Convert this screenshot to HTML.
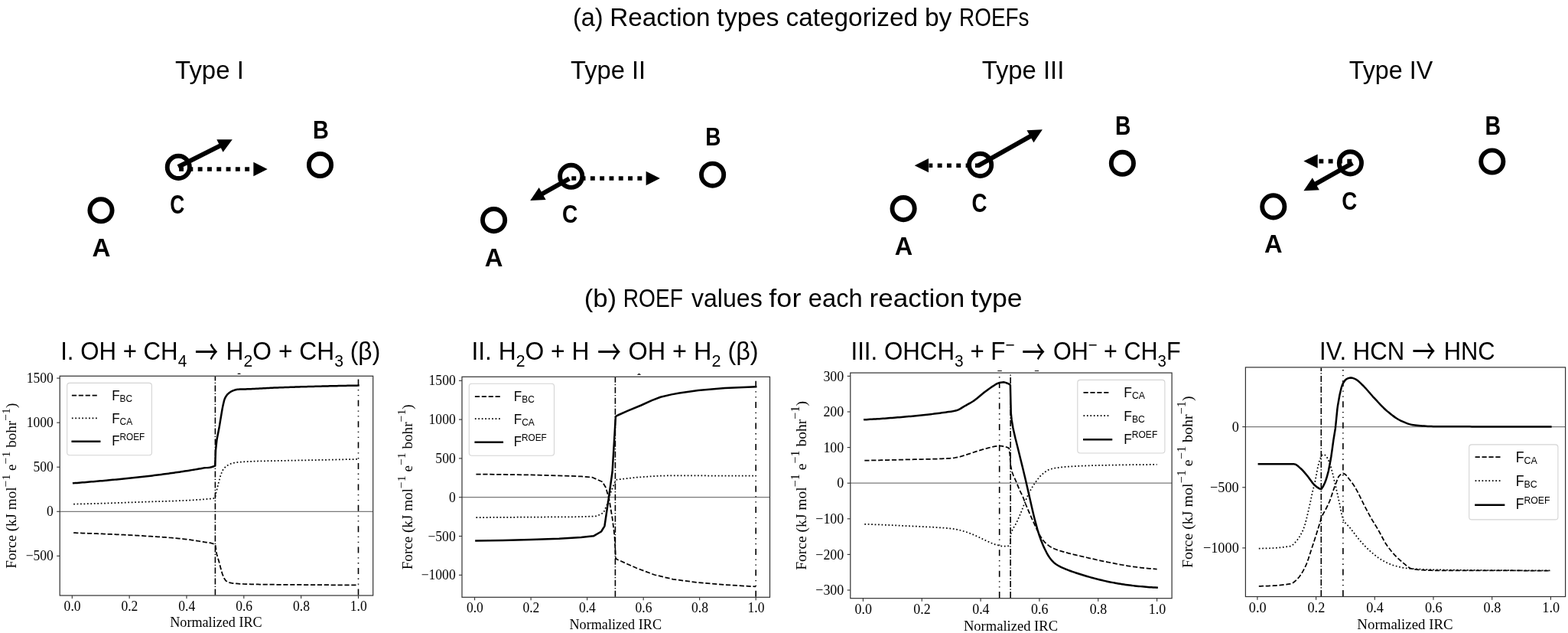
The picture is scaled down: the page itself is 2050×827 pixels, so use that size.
<!DOCTYPE html><html><head><meta charset="utf-8"><title>ROEF reaction types</title><style>html,body{margin:0;padding:0;background:#fff;overflow:hidden}svg{display:block}</style></head><body>
<svg width="2050" height="827" viewBox="0 0 2050 827">
<rect width="2050" height="827" fill="#fff"/>
<text x="229.13" y="102.8" font-size="32.4" font-family="'Liberation Sans', Arial, sans-serif" textLength="89.67" lengthAdjust="spacingAndGlyphs" >Type I</text>
<text x="746.01" y="102.7" font-size="32.4" font-family="'Liberation Sans', Arial, sans-serif" textLength="98.23" lengthAdjust="spacingAndGlyphs" >Type II</text>
<text x="1283.75" y="102.7" font-size="32.4" font-family="'Liberation Sans', Arial, sans-serif" textLength="107.54" lengthAdjust="spacingAndGlyphs" >Type III</text>
<text x="1763.81" y="102.7" font-size="32.4" font-family="'Liberation Sans', Arial, sans-serif" textLength="109.44" lengthAdjust="spacingAndGlyphs" >Type IV</text>
<text x="748.95" y="33.7" font-size="32.4" font-family="'Liberation Sans', Arial, sans-serif" textLength="39.75" lengthAdjust="spacingAndGlyphs" >(a)</text>
<text x="797.27" y="33.7" font-size="32.4" font-family="'Liberation Sans', Arial, sans-serif" textLength="131.36" lengthAdjust="spacingAndGlyphs" >Reaction</text>
<text x="937.38" y="33.7" font-size="32.4" font-family="'Liberation Sans', Arial, sans-serif" textLength="81.1" lengthAdjust="spacingAndGlyphs" >types</text>
<text x="1027.47" y="33.7" font-size="32.4" font-family="'Liberation Sans', Arial, sans-serif" textLength="172.54" lengthAdjust="spacingAndGlyphs" >categorized</text>
<text x="1208.91" y="33.7" font-size="32.4" font-family="'Liberation Sans', Arial, sans-serif" textLength="35.52" lengthAdjust="spacingAndGlyphs" >by</text>
<text x="1254.09" y="33.7" font-size="32.4" font-family="'Liberation Sans', Arial, sans-serif" textLength="91.36" lengthAdjust="spacingAndGlyphs" >ROEFs</text>
<text x="763.73" y="401.3" font-size="32.4" font-family="'Liberation Sans', Arial, sans-serif" textLength="42.48" lengthAdjust="spacingAndGlyphs" >(b)</text>
<text x="814.8" y="401.3" font-size="32.4" font-family="'Liberation Sans', Arial, sans-serif" textLength="78.08" lengthAdjust="spacingAndGlyphs" >ROEF</text>
<text x="903.94" y="401.3" font-size="32.4" font-family="'Liberation Sans', Arial, sans-serif" textLength="92.84" lengthAdjust="spacingAndGlyphs" >values</text>
<text x="1005.38" y="401.3" font-size="32.4" font-family="'Liberation Sans', Arial, sans-serif" textLength="42" lengthAdjust="spacingAndGlyphs" >for</text>
<text x="1056.79" y="401.3" font-size="32.4" font-family="'Liberation Sans', Arial, sans-serif" textLength="70.97" lengthAdjust="spacingAndGlyphs" >each</text>
<text x="1136.58" y="401.3" font-size="32.4" font-family="'Liberation Sans', Arial, sans-serif" textLength="124.65" lengthAdjust="spacingAndGlyphs" >reaction</text>
<text x="1269.39" y="401.3" font-size="32.4" font-family="'Liberation Sans', Arial, sans-serif" textLength="67.28" lengthAdjust="spacingAndGlyphs" >type</text>
<circle cx="132" cy="274.8" r="14.6" fill="none" stroke="#000" stroke-width="5.9"/>
<circle cx="418.5" cy="215.5" r="14.6" fill="none" stroke="#000" stroke-width="5.9"/>
<circle cx="233.3" cy="218.4" r="14.6" fill="none" stroke="#000" stroke-width="5.9"/>
<line x1="233" y1="218" x2="288.35" y2="190.09" stroke="#000" stroke-width="6"/>
<path d="M303.8 182.3L291.58 198.71L283.34 182.37Z" fill="#000"/>
<line x1="234.1" y1="221" x2="330.9" y2="221" stroke="#000" stroke-width="5.6" stroke-dasharray="5.9 6.4"/>
<path d="M349.7 221L331.4 230.15L331.4 211.85Z" fill="#000"/>
<circle cx="645.6" cy="287.6" r="14.6" fill="none" stroke="#000" stroke-width="5.9"/>
<circle cx="931.6" cy="228.2" r="14.6" fill="none" stroke="#000" stroke-width="5.9"/>
<circle cx="746.7" cy="230.3" r="14.6" fill="none" stroke="#000" stroke-width="5.9"/>
<line x1="744.3" y1="233.4" x2="708.3" y2="253.55" stroke="#000" stroke-width="6"/>
<path d="M693.2 262L704.7 245.08L713.64 261.05Z" fill="#000"/>
<line x1="747.3" y1="233" x2="844.1" y2="233" stroke="#000" stroke-width="5.6" stroke-dasharray="5.9 6.4"/>
<path d="M862.9 233L844.6 242.15L844.6 223.85Z" fill="#000"/>
<circle cx="1181.1" cy="272.6" r="14.6" fill="none" stroke="#000" stroke-width="5.9"/>
<circle cx="1467.4" cy="213.3" r="14.6" fill="none" stroke="#000" stroke-width="5.9"/>
<circle cx="1281.6" cy="215.4" r="14.6" fill="none" stroke="#000" stroke-width="5.9"/>
<line x1="1279.5" y1="216.2" x2="1347.83" y2="177.69" stroke="#000" stroke-width="6"/>
<path d="M1362.9 169.2L1351.45 186.16L1342.47 170.21Z" fill="#000"/>
<line x1="1280.8" y1="216.2" x2="1214.5" y2="216.2" stroke="#000" stroke-width="5.6" stroke-dasharray="5.9 6.4"/>
<path d="M1195.7 216.2L1214 207.05L1214 225.35Z" fill="#000"/>
<circle cx="1664.8" cy="269.9" r="14.6" fill="none" stroke="#000" stroke-width="5.9"/>
<circle cx="1950.8" cy="211" r="14.6" fill="none" stroke="#000" stroke-width="5.9"/>
<circle cx="1765.4" cy="212.9" r="14.6" fill="none" stroke="#000" stroke-width="5.9"/>
<line x1="1768.4" y1="213.2" x2="1719.48" y2="240.72" stroke="#000" stroke-width="6"/>
<path d="M1704.4 249.2L1715.86 232.25L1724.84 248.2Z" fill="#000"/>
<line x1="1767.2" y1="210.6" x2="1723.2" y2="210.6" stroke="#000" stroke-width="5.6" stroke-dasharray="5.9 6.4"/>
<path d="M1704.4 210.6L1722.7 201.45L1722.7 219.75Z" fill="#000"/>
<text transform="translate(132.55 335.2) scale(1 1)" font-family="'Liberation Sans', Arial, sans-serif" font-weight="bold" font-size="33.15" text-anchor="middle">A</text>
<text transform="translate(419.37 181.2) scale(0.87 1)" font-family="'Liberation Sans', Arial, sans-serif" font-weight="bold" font-size="33.19" text-anchor="middle">B</text>
<text transform="translate(231.73 278.94) scale(0.76 1)" font-family="'Liberation Sans', Arial, sans-serif" font-weight="bold" font-size="34.66" text-anchor="middle">C</text>
<text transform="translate(645.65 347.7) scale(0.98 1)" font-family="'Liberation Sans', Arial, sans-serif" font-weight="bold" font-size="33.47" text-anchor="middle">A</text>
<text transform="translate(932.47 190.3) scale(0.83 1)" font-family="'Liberation Sans', Arial, sans-serif" font-weight="bold" font-size="33.77" text-anchor="middle">B</text>
<text transform="translate(745.14 291.35) scale(0.84 1)" font-family="'Liberation Sans', Arial, sans-serif" font-weight="bold" font-size="33.49" text-anchor="middle">C</text>
<text transform="translate(1181.36 332.5) scale(0.97 1)" font-family="'Liberation Sans', Arial, sans-serif" font-weight="bold" font-size="33.47" text-anchor="middle">A</text>
<text transform="translate(1468.29 176.1) scale(0.82 1)" font-family="'Liberation Sans', Arial, sans-serif" font-weight="bold" font-size="34.35" text-anchor="middle">B</text>
<text transform="translate(1280.57 277.14) scale(0.78 1)" font-family="'Liberation Sans', Arial, sans-serif" font-weight="bold" font-size="35.45" text-anchor="middle">C</text>
<text transform="translate(1664.74 329.8) scale(0.96 1)" font-family="'Liberation Sans', Arial, sans-serif" font-weight="bold" font-size="34" text-anchor="middle">A</text>
<text transform="translate(1951.68 176.1) scale(0.83 1)" font-family="'Liberation Sans', Arial, sans-serif" font-weight="bold" font-size="34.35" text-anchor="middle">B</text>
<text transform="translate(1764.26 273.89) scale(0.82 1)" font-family="'Liberation Sans', Arial, sans-serif" font-weight="bold" font-size="33.82" text-anchor="middle">C</text>
<text x="79.16" y="470.1" font-family="'Liberation Sans', Arial, sans-serif" font-size="32.4" textLength="165.08" lengthAdjust="spacingAndGlyphs"><tspan y="470.1">I. OH + CH</tspan><tspan y="479" font-size="21.6">4</tspan></text>
<text x="295.6" y="470.1" font-family="'Liberation Sans', Arial, sans-serif" font-size="32.4" textLength="201.62" lengthAdjust="spacingAndGlyphs"><tspan y="470.1">H</tspan><tspan y="479" font-size="21.6">2</tspan><tspan y="470.1">O + CH</tspan><tspan y="479" font-size="21.6">3</tspan><tspan y="470.1"> (β)</tspan></text>
<text transform="translate(254.71 476.8) scale(0.85 1.25)" font-family="'Noto Sans CJK JP', 'Noto Sans CJK SC', sans-serif" font-size="36">→</text>
<line x1="78.2" y1="668.3" x2="487.7" y2="668.3" stroke="#7a7a7a" stroke-width="1.25"/>
<path d="M96.17 658.60 L98.51 658.55 L100.85 658.50 L103.20 658.45 L105.54 658.39 L107.88 658.34 L110.22 658.28 L112.56 658.22 L114.90 658.16 L117.25 658.10 L119.59 658.04 L121.93 657.98 L124.27 657.92 L126.61 657.85 L128.95 657.79 L131.30 657.72 L133.64 657.65 L135.98 657.58 L138.32 657.52 L138.83 657.50 L140.66 657.44 L143.00 657.37 L145.35 657.29 L147.69 657.22 L150.03 657.14 L152.37 657.05 L154.71 656.97 L157.05 656.88 L159.40 656.80 L161.74 656.71 L164.08 656.62 L166.42 656.53 L168.76 656.45 L171.11 656.36 L173.45 656.27 L175.79 656.18 L178.13 656.09 L180.47 656.01 L182.81 655.92 L185.16 655.84 L187.48 655.76 L187.50 655.76 L189.84 655.68 L192.18 655.60 L194.52 655.53 L196.86 655.45 L199.21 655.38 L201.55 655.31 L203.89 655.24 L206.23 655.17 L208.57 655.10 L210.91 655.03 L213.26 654.96 L215.60 654.89 L217.94 654.82 L220.28 654.74 L222.62 654.66 L224.96 654.58 L227.31 654.49 L229.65 654.40 L231.99 654.31 L234.33 654.21 L236.12 654.13 L236.67 654.11 L239.01 654.00 L241.36 653.89 L243.70 653.78 L246.04 653.66 L248.38 653.53 L250.72 653.40 L253.06 653.27 L255.41 653.12 L257.75 652.97 L260.09 652.81 L262.43 652.65 L264.77 652.47 L267.11 652.28 L269.46 652.09 L271.80 651.88 L274.14 651.66 L275.04 651.58 L276.48 651.46 L278.82 651.24 L280.91 650.76 L281.16 650.36 L282.52 643.56 L283.51 639.73 L285.85 630.50 L288.19 622.04 L290.53 615.43 L292.63 611.98 L292.87 611.74 L295.21 609.70 L297.56 608.00 L299.90 606.65 L302.24 605.63 L304.58 604.93 L305.95 604.66 L306.92 604.51 L309.26 604.19 L311.61 603.91 L313.95 603.67 L316.29 603.46 L318.63 603.29 L320.97 603.14 L323.32 603.01 L325.66 602.89 L327.80 602.80 L328.00 602.79 L330.34 602.71 L332.68 602.63 L335.02 602.56 L337.37 602.49 L339.71 602.44 L342.05 602.38 L344.39 602.33 L346.73 602.28 L349.07 602.23 L349.50 602.22 L351.42 602.18 L353.76 602.13 L356.10 602.09 L358.44 602.05 L360.78 602.01 L363.12 601.97 L365.47 601.93 L367.81 601.89 L370.15 601.84 L372.49 601.80 L374.83 601.76 L374.95 601.76 L377.17 601.72 L379.52 601.67 L381.86 601.63 L384.20 601.58 L386.54 601.54 L388.88 601.49 L391.22 601.45 L393.57 601.40 L395.91 601.36 L398.25 601.31 L400.59 601.27 L402.93 601.22 L405.27 601.18 L407.62 601.13 L409.96 601.09 L412.30 601.04 L414.64 600.99 L416.98 600.95 L419.32 600.90 L421.67 600.86 L424.01 600.81 L426.35 600.76 L428.69 600.72 L431.03 600.67 L433.37 600.62 L435.72 600.58 L438.06 600.53 L440.40 600.48 L442.74 600.43 L445.08 600.39 L447.42 600.34 L449.77 600.29 L452.11 600.24 L454.45 600.19 L456.79 600.14 L459.13 600.10 L461.47 600.05 L463.82 600.00 L466.16 599.95 L468.50 599.90" fill="none" stroke="#000" stroke-linejoin="round" stroke-width="1.75" stroke-dasharray="1.7 2.75"/>
<path d="M96.17 696.17 L98.51 696.24 L100.85 696.31 L103.20 696.38 L105.54 696.45 L107.88 696.53 L110.22 696.61 L112.56 696.69 L114.90 696.77 L117.25 696.85 L119.59 696.93 L121.93 697.02 L124.27 697.11 L126.61 697.19 L128.95 697.28 L131.30 697.38 L133.64 697.47 L135.98 697.56 L138.32 697.66 L138.83 697.68 L140.66 697.76 L143.00 697.86 L145.35 697.96 L147.69 698.06 L150.03 698.16 L152.37 698.27 L154.71 698.38 L157.05 698.49 L159.40 698.60 L161.74 698.72 L164.08 698.83 L166.42 698.95 L168.76 699.07 L171.11 699.20 L173.45 699.32 L175.79 699.45 L178.13 699.58 L180.47 699.71 L182.81 699.85 L185.16 699.98 L187.48 700.12 L187.50 700.12 L189.84 700.26 L192.18 700.40 L194.52 700.54 L196.86 700.69 L199.21 700.84 L201.55 700.98 L203.89 701.14 L206.23 701.29 L208.57 701.45 L210.91 701.61 L213.26 701.78 L215.60 701.95 L217.94 702.13 L220.28 702.31 L222.62 702.50 L224.96 702.69 L227.31 702.89 L229.65 703.10 L231.99 703.32 L234.33 703.54 L236.12 703.72 L236.67 703.78 L239.01 704.02 L241.36 704.29 L243.70 704.58 L246.04 704.88 L248.38 705.20 L250.72 705.54 L253.06 705.88 L255.41 706.25 L257.75 706.62 L260.09 707.01 L262.43 707.40 L264.77 707.81 L265.31 707.90 L267.11 708.19 L269.46 708.51 L271.80 708.82 L274.14 709.21 L276.48 709.72 L278.82 710.42 L280.91 711.27 L281.16 711.46 L281.51 711.96 L283.20 723.00 L283.51 724.39 L285.85 732.35 L286.60 734.84 L288.19 740.96 L290.53 749.34 L290.75 749.94 L292.87 755.17 L295.06 758.53 L295.21 758.64 L297.56 760.07 L299.90 761.07 L302.24 761.70 L303.48 761.90 L304.58 762.04 L306.92 762.29 L309.26 762.49 L311.61 762.66 L313.95 762.80 L316.29 762.91 L318.63 763.00 L320.32 763.06 L320.97 763.08 L323.32 763.15 L325.66 763.22 L328.00 763.28 L330.34 763.33 L332.68 763.38 L335.02 763.43 L337.37 763.47 L339.71 763.51 L342.05 763.55 L344.39 763.58 L346.73 763.61 L349.07 763.64 L349.50 763.64 L351.42 763.66 L353.76 763.69 L356.10 763.71 L358.44 763.74 L360.78 763.76 L363.12 763.78 L365.47 763.80 L367.81 763.81 L370.15 763.83 L372.49 763.85 L374.83 763.87 L377.17 763.88 L379.52 763.90 L381.86 763.91 L384.20 763.93 L386.54 763.94 L388.88 763.96 L391.22 763.97 L393.57 763.99 L393.66 763.99 L395.91 764.01 L398.25 764.02 L400.59 764.04 L402.93 764.06 L405.27 764.07 L407.62 764.09 L409.96 764.10 L412.30 764.12 L414.64 764.13 L416.98 764.15 L419.32 764.17 L421.67 764.18 L424.01 764.20 L426.35 764.21 L428.69 764.23 L431.03 764.24 L433.37 764.26 L435.72 764.27 L438.06 764.28 L440.40 764.30 L442.74 764.31 L445.08 764.33 L447.42 764.34 L449.77 764.35 L452.11 764.37 L454.45 764.38 L456.79 764.39 L459.13 764.41 L461.47 764.42 L463.82 764.43 L466.16 764.44 L468.50 764.46" fill="none" stroke="#000" stroke-linejoin="round" stroke-width="1.75" stroke-dasharray="6.2 2.7"/>
<path d="M96.17 631.25 L98.51 631.07 L100.85 630.89 L103.20 630.70 L105.54 630.52 L107.88 630.33 L110.22 630.14 L112.56 629.94 L114.90 629.75 L117.25 629.55 L119.59 629.35 L121.93 629.15 L124.27 628.95 L126.61 628.75 L128.95 628.54 L131.30 628.33 L133.64 628.13 L135.98 627.91 L138.32 627.70 L138.83 627.65 L140.66 627.49 L143.00 627.27 L145.35 627.05 L147.69 626.84 L150.03 626.62 L152.37 626.40 L154.71 626.17 L157.05 625.95 L159.40 625.72 L161.74 625.49 L164.08 625.26 L166.42 625.02 L168.76 624.79 L171.11 624.55 L173.45 624.30 L175.79 624.06 L178.13 623.81 L180.47 623.56 L182.81 623.30 L185.16 623.04 L187.48 622.78 L187.50 622.77 L189.84 622.51 L192.18 622.23 L194.52 621.96 L196.86 621.67 L199.21 621.39 L201.55 621.10 L203.89 620.81 L206.23 620.51 L208.57 620.21 L210.91 619.90 L213.26 619.59 L215.60 619.28 L217.94 618.96 L220.28 618.64 L222.62 618.32 L224.96 617.99 L227.31 617.66 L229.65 617.33 L231.99 616.99 L234.33 616.65 L236.12 616.39 L236.67 616.31 L239.01 615.96 L241.36 615.61 L243.70 615.25 L246.04 614.89 L248.38 614.52 L250.72 614.14 L253.06 613.76 L255.41 613.37 L257.75 612.97 L260.09 612.56 L262.43 612.15 L264.77 611.73 L265.31 611.63 L267.11 611.36 L269.46 611.13 L271.80 610.93 L274.14 610.67 L276.48 610.24 L278.82 609.52 L281.16 608.40 L281.21 608.38 L282.00 588.05 L283.51 574.23 L285.85 562.18 L287.01 556.12 L288.19 548.79 L290.53 534.75 L291.50 529.87 L292.87 523.93 L293.75 521.16 L295.21 518.16 L297.27 515.36 L297.56 515.06 L299.90 512.97 L302.24 511.47 L303.10 511.06 L304.58 510.43 L306.92 509.57 L309.26 508.99 L310.33 508.85 L311.61 508.76 L313.95 508.62 L316.29 508.52 L318.63 508.44 L320.97 508.38 L323.32 508.31 L325.66 508.24 L327.69 508.16 L328.00 508.14 L330.34 508.03 L332.68 507.91 L335.02 507.78 L337.37 507.64 L339.71 507.51 L342.05 507.38 L344.39 507.25 L346.73 507.13 L349.07 507.01 L349.50 507.00 L351.42 506.91 L353.76 506.81 L356.10 506.71 L358.44 506.61 L360.78 506.52 L363.12 506.42 L365.47 506.33 L367.81 506.24 L370.15 506.15 L372.49 506.06 L374.83 505.98 L377.17 505.90 L379.52 505.82 L381.86 505.74 L384.20 505.66 L386.54 505.59 L388.88 505.51 L391.22 505.44 L393.57 505.37 L393.66 505.37 L395.91 505.30 L398.25 505.24 L400.59 505.17 L402.93 505.10 L405.27 505.04 L407.62 504.97 L409.96 504.91 L412.30 504.85 L414.64 504.78 L416.98 504.72 L419.32 504.66 L421.67 504.60 L424.01 504.54 L426.35 504.48 L428.69 504.42 L431.03 504.37 L433.37 504.31 L435.72 504.26 L438.06 504.20 L440.40 504.15 L442.74 504.10 L445.08 504.05 L447.42 504.00 L449.77 503.95 L452.11 503.91 L454.45 503.86 L456.79 503.82 L459.13 503.78 L461.47 503.74 L463.82 503.70 L466.16 503.66 L468.50 503.63" fill="none" stroke="#000" stroke-linejoin="round" stroke-width="2.5" stroke-linecap="square"/>
<line x1="281.4" y1="777.4" x2="281.4" y2="491.9" stroke="#000" stroke-width="1.6" stroke-dasharray="8 2.4 1.2 2.4"/>
<line x1="468.5" y1="777.4" x2="468.5" y2="491.9" stroke="#000" stroke-width="1.6" stroke-dasharray="8 5.6 1.3 5.6 1.3 5.6"/>
<rect x="87.7" y="500.4" width="110.7" height="94.3" rx="3.5" ry="3.5" fill="#fff" fill-opacity="0.8" stroke="#d4d4d4" stroke-width="1.1"/>
<line x1="93.9" y1="516.7" x2="127.6" y2="516.7" stroke="#000" stroke-width="1.75" stroke-dasharray="6.2 2.7"/>
<text x="146.2" y="523" font-family="'Liberation Sans', Arial, sans-serif" font-size="18.6" textLength="27" lengthAdjust="spacingAndGlyphs">F<tspan font-size="13" y="525.1">BC</tspan></text>
<line x1="93.9" y1="546.4" x2="127.6" y2="546.4" stroke="#000" stroke-width="1.75" stroke-dasharray="1.7 2.75"/>
<text x="146.2" y="552.7" font-family="'Liberation Sans', Arial, sans-serif" font-size="18.6" textLength="27" lengthAdjust="spacingAndGlyphs">F<tspan font-size="13" y="554.8">CA</tspan></text>
<line x1="94.7" y1="576.8" x2="130.2" y2="576.8" stroke="#000" stroke-width="2.5" stroke-linecap="square"/>
<text x="146.2" y="582.2" font-family="'Liberation Sans', Arial, sans-serif" font-size="18.6" textLength="43" lengthAdjust="spacingAndGlyphs">F<tspan font-size="13" y="574.8">ROEF</tspan></text>
<rect x="78.2" y="491.3" width="409.5" height="286.7" fill="none" stroke="#303030" stroke-width="1.2"/>
<line x1="74.2" y1="494.1" x2="78.2" y2="494.1" stroke="#303030" stroke-width="1.1"/>
<text x="34.77" y="500.1" font-family="'Liberation Serif', 'Times New Roman', serif" font-size="18.2" textLength="35.13" lengthAdjust="spacingAndGlyphs">1500</text>
<line x1="74.2" y1="552.17" x2="78.2" y2="552.17" stroke="#303030" stroke-width="1.1"/>
<text x="34.77" y="558.17" font-family="'Liberation Serif', 'Times New Roman', serif" font-size="18.2" textLength="35.13" lengthAdjust="spacingAndGlyphs">1000</text>
<line x1="74.2" y1="610.23" x2="78.2" y2="610.23" stroke="#303030" stroke-width="1.1"/>
<text x="43.56" y="616.23" font-family="'Liberation Serif', 'Times New Roman', serif" font-size="18.2" textLength="26.34" lengthAdjust="spacingAndGlyphs">500</text>
<line x1="74.2" y1="668.3" x2="78.2" y2="668.3" stroke="#303030" stroke-width="1.1"/>
<text x="61.12" y="674.3" font-family="'Liberation Serif', 'Times New Roman', serif" font-size="18.2" textLength="8.78" lengthAdjust="spacingAndGlyphs">0</text>
<line x1="74.2" y1="726.37" x2="78.2" y2="726.37" stroke="#303030" stroke-width="1.1"/>
<text x="33.65" y="732.37" font-family="'Liberation Serif', 'Times New Roman', serif" font-size="18.2" textLength="36.25" lengthAdjust="spacingAndGlyphs">−500</text>
<line x1="94.3" y1="778" x2="94.3" y2="782" stroke="#303030" stroke-width="1.1"/>
<text x="83.62" y="797.7" font-family="'Liberation Serif', 'Times New Roman', serif" font-size="18.2" textLength="21.95" lengthAdjust="spacingAndGlyphs">0.0</text>
<line x1="169.14" y1="778" x2="169.14" y2="782" stroke="#303030" stroke-width="1.1"/>
<text x="158.46" y="797.7" font-family="'Liberation Serif', 'Times New Roman', serif" font-size="18.2" textLength="21.95" lengthAdjust="spacingAndGlyphs">0.2</text>
<line x1="243.98" y1="778" x2="243.98" y2="782" stroke="#303030" stroke-width="1.1"/>
<text x="233.3" y="797.7" font-family="'Liberation Serif', 'Times New Roman', serif" font-size="18.2" textLength="21.95" lengthAdjust="spacingAndGlyphs">0.4</text>
<line x1="318.82" y1="778" x2="318.82" y2="782" stroke="#303030" stroke-width="1.1"/>
<text x="308.14" y="797.7" font-family="'Liberation Serif', 'Times New Roman', serif" font-size="18.2" textLength="21.95" lengthAdjust="spacingAndGlyphs">0.6</text>
<line x1="393.66" y1="778" x2="393.66" y2="782" stroke="#303030" stroke-width="1.1"/>
<text x="382.98" y="797.7" font-family="'Liberation Serif', 'Times New Roman', serif" font-size="18.2" textLength="21.95" lengthAdjust="spacingAndGlyphs">0.8</text>
<line x1="468.5" y1="778" x2="468.5" y2="782" stroke="#303030" stroke-width="1.1"/>
<text x="457.82" y="797.7" font-family="'Liberation Serif', 'Times New Roman', serif" font-size="18.2" textLength="21.95" lengthAdjust="spacingAndGlyphs">1.0</text>
<text x="282.45" y="818.8" font-family="'Liberation Serif', 'Times New Roman', serif" font-size="18.8" text-anchor="middle" textLength="120.5" lengthAdjust="spacingAndGlyphs">Normalized IRC</text>
<text transform="translate(21.2 634.65) rotate(-90)" font-family="'Liberation Serif', 'Times New Roman', serif" font-size="18.8" text-anchor="middle" textLength="216" lengthAdjust="spacingAndGlyphs">Force (kJ mol<tspan font-size="15.5" dy="-8.3">−1</tspan><tspan dy="8.3"> e</tspan><tspan font-size="15.5" dy="-8.3">−1</tspan><tspan dy="8.3"> bohr</tspan><tspan font-size="15.5" dy="-8.3">−1</tspan><tspan dy="8.3">)</tspan></text>
<text x="616.39" y="470.1" font-family="'Liberation Sans', Arial, sans-serif" font-size="32.4" textLength="154.14" lengthAdjust="spacingAndGlyphs"><tspan y="470.1">II. H</tspan><tspan y="479" font-size="21.6">2</tspan><tspan y="470.1">O + H</tspan></text>
<text x="821.44" y="470.1" font-family="'Liberation Sans', Arial, sans-serif" font-size="32.4" textLength="170.22" lengthAdjust="spacingAndGlyphs"><tspan y="470.1">OH + H</tspan><tspan y="479" font-size="21.6">2</tspan><tspan y="470.1"> (β)</tspan></text>
<text transform="translate(780.99 476.7) scale(0.86 1.25)" font-family="'Noto Sans CJK JP', 'Noto Sans CJK SC', sans-serif" font-size="36">→</text>
<line x1="604" y1="649.7" x2="1006.5" y2="649.7" stroke="#7a7a7a" stroke-width="1.25"/>
<path d="M622.44 676.12 L694.12 675.61 L759.92 675.20 L780.36 674.29 L788.96 670.02 L793.45 659.86 L797.78 645.33 L803.48 630.90 L806.39 626.64 L832.34 623.69 L860.28 621.76 L880.02 621.25 L914.68 621.46 L988.20 621.76" fill="none" stroke="#000" stroke-linejoin="round" stroke-width="1.75" stroke-dasharray="1.7 2.75"/>
<path d="M622.44 619.52 L694.12 620.44 L759.92 622.37 L774.51 623.69 L787.49 629.48 L791.90 636.70 L796.20 651.12 L800.58 677.13 L803.48 700.30 L804.91 729.25 L806.39 730.68 L832.34 742.26 L855.72 751.00 L880.02 756.79 L912.84 761.16 L947.76 764.00 L988.20 766.44" fill="none" stroke="#000" stroke-linejoin="round" stroke-width="1.75" stroke-dasharray="6.2 2.7"/>
<path d="M622.44 706.49 L657.36 705.88 L694.12 705.07 L730.88 703.75 L759.92 702.02 L775.95 700.30 L786.02 694.51 L790.43 687.29 L796.20 648.18 L800.58 616.48 L804.91 544.04 L807.71 542.51 L820.94 536.72 L838.22 529.51 L852.19 523.21 L863.58 518.74 L877.92 515.38 L888.21 513.45 L912.84 509.90 L947.76 507.05 L988.20 505.22" fill="none" stroke="#000" stroke-linejoin="round" stroke-width="2.5" stroke-linecap="square"/>
<line x1="804.4" y1="779.7" x2="804.4" y2="492.9" stroke="#000" stroke-width="1.6" stroke-dasharray="8 2.4 1.2 2.4"/>
<line x1="988.2" y1="779.7" x2="988.2" y2="492.9" stroke="#000" stroke-width="1.6" stroke-dasharray="8 5.6 1.3 5.6 1.3 5.6"/>
<rect x="613.3" y="501.2" width="111.2" height="94" rx="3.5" ry="3.5" fill="#fff" fill-opacity="0.8" stroke="#d4d4d4" stroke-width="1.1"/>
<line x1="620.9" y1="518" x2="654.6" y2="518" stroke="#000" stroke-width="1.75" stroke-dasharray="6.2 2.7"/>
<text x="671.8" y="524.3" font-family="'Liberation Sans', Arial, sans-serif" font-size="18.6" textLength="27" lengthAdjust="spacingAndGlyphs">F<tspan font-size="13" y="526.4">BC</tspan></text>
<line x1="620.9" y1="547.2" x2="654.6" y2="547.2" stroke="#000" stroke-width="1.75" stroke-dasharray="1.7 2.75"/>
<text x="671.8" y="553.5" font-family="'Liberation Sans', Arial, sans-serif" font-size="18.6" textLength="27" lengthAdjust="spacingAndGlyphs">F<tspan font-size="13" y="555.6">CA</tspan></text>
<line x1="621.7" y1="577.7" x2="656.8" y2="577.7" stroke="#000" stroke-width="2.5" stroke-linecap="square"/>
<text x="671.8" y="583.1" font-family="'Liberation Sans', Arial, sans-serif" font-size="18.6" textLength="43" lengthAdjust="spacingAndGlyphs">F<tspan font-size="13" y="575.7">ROEF</tspan></text>
<rect x="604" y="492.3" width="402.5" height="288" fill="none" stroke="#303030" stroke-width="1.2"/>
<line x1="600" y1="497.3" x2="604" y2="497.3" stroke="#303030" stroke-width="1.1"/>
<text x="560.57" y="503.3" font-family="'Liberation Serif', 'Times New Roman', serif" font-size="18.2" textLength="35.13" lengthAdjust="spacingAndGlyphs">1500</text>
<line x1="600" y1="548.1" x2="604" y2="548.1" stroke="#303030" stroke-width="1.1"/>
<text x="560.57" y="554.1" font-family="'Liberation Serif', 'Times New Roman', serif" font-size="18.2" textLength="35.13" lengthAdjust="spacingAndGlyphs">1000</text>
<line x1="600" y1="598.9" x2="604" y2="598.9" stroke="#303030" stroke-width="1.1"/>
<text x="569.36" y="604.9" font-family="'Liberation Serif', 'Times New Roman', serif" font-size="18.2" textLength="26.34" lengthAdjust="spacingAndGlyphs">500</text>
<line x1="600" y1="649.7" x2="604" y2="649.7" stroke="#303030" stroke-width="1.1"/>
<text x="586.92" y="655.7" font-family="'Liberation Serif', 'Times New Roman', serif" font-size="18.2" textLength="8.78" lengthAdjust="spacingAndGlyphs">0</text>
<line x1="600" y1="700.5" x2="604" y2="700.5" stroke="#303030" stroke-width="1.1"/>
<text x="559.45" y="706.5" font-family="'Liberation Serif', 'Times New Roman', serif" font-size="18.2" textLength="36.25" lengthAdjust="spacingAndGlyphs">−500</text>
<line x1="600" y1="751.3" x2="604" y2="751.3" stroke="#303030" stroke-width="1.1"/>
<text x="550.67" y="757.3" font-family="'Liberation Serif', 'Times New Roman', serif" font-size="18.2" textLength="45.03" lengthAdjust="spacingAndGlyphs">−1000</text>
<line x1="620.6" y1="780.3" x2="620.6" y2="784.3" stroke="#303030" stroke-width="1.1"/>
<text x="609.92" y="799.7" font-family="'Liberation Serif', 'Times New Roman', serif" font-size="18.2" textLength="21.95" lengthAdjust="spacingAndGlyphs">0.0</text>
<line x1="694.12" y1="780.3" x2="694.12" y2="784.3" stroke="#303030" stroke-width="1.1"/>
<text x="683.44" y="799.7" font-family="'Liberation Serif', 'Times New Roman', serif" font-size="18.2" textLength="21.95" lengthAdjust="spacingAndGlyphs">0.2</text>
<line x1="767.64" y1="780.3" x2="767.64" y2="784.3" stroke="#303030" stroke-width="1.1"/>
<text x="756.96" y="799.7" font-family="'Liberation Serif', 'Times New Roman', serif" font-size="18.2" textLength="21.95" lengthAdjust="spacingAndGlyphs">0.4</text>
<line x1="841.16" y1="780.3" x2="841.16" y2="784.3" stroke="#303030" stroke-width="1.1"/>
<text x="830.48" y="799.7" font-family="'Liberation Serif', 'Times New Roman', serif" font-size="18.2" textLength="21.95" lengthAdjust="spacingAndGlyphs">0.6</text>
<line x1="914.68" y1="780.3" x2="914.68" y2="784.3" stroke="#303030" stroke-width="1.1"/>
<text x="904" y="799.7" font-family="'Liberation Serif', 'Times New Roman', serif" font-size="18.2" textLength="21.95" lengthAdjust="spacingAndGlyphs">0.8</text>
<line x1="988.2" y1="780.3" x2="988.2" y2="784.3" stroke="#303030" stroke-width="1.1"/>
<text x="977.52" y="799.7" font-family="'Liberation Serif', 'Times New Roman', serif" font-size="18.2" textLength="21.95" lengthAdjust="spacingAndGlyphs">1.0</text>
<text x="804.75" y="821.6" font-family="'Liberation Serif', 'Times New Roman', serif" font-size="18.8" text-anchor="middle" textLength="120.5" lengthAdjust="spacingAndGlyphs">Normalized IRC</text>
<text transform="translate(538.6 636.3) rotate(-90)" font-family="'Liberation Serif', 'Times New Roman', serif" font-size="18.8" text-anchor="middle" textLength="216" lengthAdjust="spacingAndGlyphs">Force (kJ mol<tspan font-size="15.5" dy="-8.3">−1</tspan><tspan dy="8.3"> e</tspan><tspan font-size="15.5" dy="-8.3">−1</tspan><tspan dy="8.3"> bohr</tspan><tspan font-size="15.5" dy="-8.3">−1</tspan><tspan dy="8.3">)</tspan></text>
<text x="1112.44" y="469.9" font-family="'Liberation Sans', Arial, sans-serif" font-size="32.4" textLength="214.24" lengthAdjust="spacingAndGlyphs"><tspan y="469.9">III. OHCH</tspan><tspan y="478.8" font-size="21.6">3</tspan><tspan y="469.9"> + F</tspan><tspan y="458.4" font-size="21.6">−</tspan></text>
<text x="1376.88" y="469.9" font-family="'Liberation Sans', Arial, sans-serif" font-size="32.4" textLength="166.72" lengthAdjust="spacingAndGlyphs"><tspan y="469.9">OH</tspan><tspan y="458.4" font-size="21.6">−</tspan><tspan y="469.9"> + CH</tspan><tspan y="478.8" font-size="21.6">3</tspan><tspan y="469.9">F</tspan></text>
<text transform="translate(1335.93 476.8) scale(0.85 1.25)" font-family="'Noto Sans CJK JP', 'Noto Sans CJK SC', sans-serif" font-size="36">→</text>
<line x1="1111.8" y1="631.2" x2="1532.1" y2="631.2" stroke="#7a7a7a" stroke-width="1.25"/>
<path d="M1130.32 684.79 L1132.73 684.87 L1135.13 684.95 L1137.53 685.04 L1139.94 685.13 L1142.34 685.22 L1144.75 685.31 L1147.15 685.40 L1149.56 685.49 L1151.96 685.59 L1154.36 685.69 L1156.77 685.79 L1159.17 685.89 L1161.58 685.99 L1163.98 686.10 L1166.39 686.20 L1168.79 686.31 L1171.19 686.42 L1173.60 686.53 L1176.00 686.64 L1178.41 686.75 L1180.81 686.87 L1183.21 686.98 L1185.62 687.10 L1186.03 687.12 L1188.02 687.22 L1190.43 687.33 L1192.83 687.44 L1195.24 687.55 L1197.64 687.66 L1200.04 687.77 L1202.45 687.88 L1204.85 687.99 L1207.26 688.11 L1209.66 688.22 L1212.07 688.34 L1214.47 688.47 L1216.87 688.59 L1219.28 688.73 L1221.68 688.87 L1224.09 689.02 L1226.49 689.17 L1228.90 689.34 L1231.30 689.51 L1233.70 689.69 L1236.11 689.89 L1238.51 690.09 L1240.92 690.31 L1241.70 690.38 L1243.32 690.55 L1245.73 690.88 L1248.13 691.26 L1250.53 691.70 L1250.96 691.78 L1252.94 692.19 L1255.34 692.76 L1257.75 693.40 L1260.15 694.10 L1262.56 694.85 L1264.60 695.51 L1264.96 695.63 L1267.36 696.48 L1269.77 697.41 L1272.17 698.40 L1274.58 699.44 L1276.98 700.49 L1277.32 700.63 L1279.39 701.58 L1281.79 702.74 L1284.19 703.93 L1286.60 705.12 L1289.00 706.25 L1289.99 706.69 L1291.41 707.32 L1293.81 708.41 L1296.22 709.47 L1298.62 710.46 L1301.02 711.32 L1302.71 711.82 L1303.43 712.01 L1305.83 712.67 L1308.24 713.25 L1310.64 713.62 L1312.01 713.68 L1313.05 713.67 L1315.45 713.57 L1317.85 713.34 L1318.69 713.22 L1320.26 711.73 L1320.88 709.95 L1321.27 698.07 L1322.66 694.25 L1323.00 693.64 L1325.07 689.66 L1327.47 685.60 L1328.91 682.93 L1329.88 680.92 L1332.28 675.51 L1333.10 673.61 L1334.68 669.83 L1337.09 663.75 L1339.49 657.56 L1341.90 651.58 L1344.30 646.16 L1345.01 644.71 L1346.71 641.47 L1349.11 637.22 L1351.51 633.38 L1352.58 631.81 L1353.92 629.90 L1356.32 626.59 L1358.73 623.55 L1361.13 620.93 L1362.38 619.78 L1363.54 618.80 L1365.94 616.87 L1368.34 615.18 L1370.75 613.87 L1372.21 613.31 L1373.15 613.02 L1375.56 612.37 L1377.96 611.84 L1380.37 611.39 L1382.77 611.02 L1385.17 610.71 L1385.31 610.70 L1387.58 610.44 L1389.98 610.20 L1392.39 609.98 L1394.79 609.78 L1397.20 609.60 L1399.60 609.43 L1402.00 609.28 L1404.41 609.15 L1406.81 609.02 L1406.95 609.02 L1409.22 608.91 L1411.62 608.80 L1414.02 608.70 L1416.43 608.60 L1418.83 608.51 L1421.24 608.42 L1423.64 608.33 L1426.05 608.26 L1428.45 608.18 L1430.85 608.11 L1433.26 608.05 L1435.66 607.99 L1438.07 607.94 L1439.99 607.90 L1440.47 607.89 L1442.88 607.84 L1445.28 607.80 L1447.68 607.75 L1450.09 607.70 L1452.49 607.66 L1454.90 607.61 L1457.30 607.57 L1459.71 607.52 L1462.11 607.48 L1464.51 607.44 L1466.92 607.40 L1469.32 607.36 L1471.73 607.32 L1474.13 607.29 L1476.54 607.25 L1478.94 607.22 L1481.34 607.19 L1483.75 607.16 L1486.15 607.13 L1488.56 607.10 L1490.96 607.08 L1493.37 607.06 L1495.77 607.04 L1498.17 607.02 L1500.58 607.00 L1502.98 606.99 L1505.39 606.98 L1507.79 606.97 L1510.20 606.97 L1512.60 606.97" fill="none" stroke="#000" stroke-linejoin="round" stroke-width="1.75" stroke-dasharray="1.7 2.75"/>
<path d="M1130.32 601.61 L1132.73 601.57 L1135.13 601.53 L1137.53 601.48 L1139.94 601.44 L1142.34 601.40 L1144.75 601.35 L1147.15 601.31 L1149.56 601.26 L1151.96 601.21 L1154.36 601.16 L1156.77 601.11 L1159.17 601.06 L1161.58 601.01 L1163.98 600.96 L1166.39 600.90 L1168.79 600.85 L1171.19 600.80 L1173.60 600.74 L1176.00 600.68 L1178.41 600.63 L1180.81 600.57 L1183.21 600.51 L1185.62 600.45 L1186.03 600.44 L1188.02 600.40 L1190.43 600.34 L1192.83 600.29 L1195.24 600.24 L1197.64 600.19 L1200.04 600.14 L1202.45 600.09 L1204.85 600.05 L1207.26 600.00 L1209.66 599.94 L1212.07 599.89 L1214.47 599.83 L1216.87 599.77 L1219.28 599.71 L1221.68 599.64 L1224.09 599.56 L1226.49 599.48 L1228.90 599.39 L1231.30 599.30 L1233.70 599.19 L1236.11 599.08 L1238.51 598.96 L1240.92 598.83 L1241.20 598.81 L1243.32 598.65 L1245.73 598.37 L1248.13 598.01 L1250.53 597.59 L1252.73 597.18 L1252.94 597.14 L1255.34 596.59 L1257.75 595.92 L1260.15 595.16 L1262.56 594.37 L1264.96 593.59 L1265.41 593.45 L1267.36 592.83 L1269.77 592.03 L1272.17 591.22 L1274.58 590.41 L1276.98 589.62 L1278.12 589.26 L1279.39 588.87 L1281.79 588.12 L1284.19 587.39 L1286.60 586.68 L1289.00 586.01 L1290.80 585.53 L1291.41 585.38 L1293.81 584.75 L1296.22 584.14 L1298.62 583.61 L1300.98 583.20 L1301.02 583.20 L1303.43 582.85 L1305.83 582.58 L1307.71 582.50 L1308.24 582.52 L1310.64 582.88 L1313.05 583.51 L1313.66 583.67 L1315.45 584.04 L1317.85 584.80 L1319.19 585.72 L1320.26 593.62 L1320.42 595.32 L1321.35 607.90 L1322.66 614.68 L1323.42 617.22 L1325.07 621.76 L1327.47 626.91 L1328.68 629.62 L1329.88 632.58 L1332.28 638.62 L1333.10 640.52 L1334.68 643.73 L1337.09 648.47 L1337.40 649.19 L1339.49 654.74 L1340.79 658.23 L1341.90 660.98 L1344.30 666.71 L1346.71 672.21 L1349.11 677.60 L1349.20 677.80 L1351.51 682.93 L1353.92 688.14 L1356.32 693.14 L1356.81 694.11 L1358.73 697.92 L1360.00 700.17 L1361.13 701.98 L1363.54 705.54 L1365.94 708.47 L1366.49 709.02 L1368.34 710.71 L1370.75 712.64 L1373.15 714.29 L1375.56 715.65 L1376.29 716.01 L1377.96 716.77 L1380.37 717.75 L1382.77 718.62 L1385.17 719.40 L1387.58 720.13 L1389.98 720.82 L1392.39 721.51 L1392.73 721.60 L1394.79 722.18 L1397.20 722.82 L1399.60 723.44 L1402.00 724.03 L1404.41 724.60 L1406.81 725.16 L1409.22 725.71 L1411.62 726.26 L1414.02 726.82 L1414.82 727.01 L1416.43 727.39 L1418.83 727.95 L1421.24 728.51 L1423.64 729.07 L1426.05 729.62 L1428.45 730.16 L1430.85 730.70 L1433.26 731.23 L1435.66 731.75 L1436.14 731.86 L1438.07 732.27 L1440.47 732.78 L1442.88 733.28 L1445.28 733.78 L1447.68 734.27 L1450.09 734.76 L1452.49 735.24 L1454.90 735.70 L1457.30 736.16 L1457.93 736.28 L1459.71 736.62 L1462.11 737.08 L1464.51 737.54 L1466.92 738.00 L1469.32 738.44 L1471.73 738.87 L1474.13 739.28 L1476.54 739.66 L1478.94 740.01 L1479.67 740.10 L1481.34 740.32 L1483.75 740.64 L1486.15 740.94 L1488.56 741.24 L1490.96 741.52 L1493.37 741.80 L1495.77 742.07 L1498.17 742.32 L1500.58 742.56 L1502.98 742.78 L1505.39 742.99 L1507.79 743.18 L1510.20 743.35 L1512.60 743.51" fill="none" stroke="#000" stroke-linejoin="round" stroke-width="1.75" stroke-dasharray="6.2 2.7"/>
<path d="M1130.32 548.25 L1132.73 548.13 L1135.13 548.00 L1137.53 547.87 L1139.94 547.74 L1142.34 547.59 L1144.75 547.45 L1147.15 547.29 L1149.56 547.14 L1151.96 546.98 L1154.36 546.81 L1156.77 546.64 L1159.17 546.47 L1161.58 546.29 L1163.98 546.11 L1166.39 545.92 L1168.79 545.73 L1171.19 545.54 L1173.60 545.35 L1176.00 545.15 L1178.41 544.95 L1180.81 544.74 L1183.21 544.54 L1185.62 544.33 L1186.03 544.29 L1188.02 544.11 L1190.43 543.90 L1192.83 543.68 L1195.24 543.45 L1197.64 543.22 L1200.04 542.98 L1202.45 542.74 L1204.85 542.49 L1207.26 542.24 L1209.66 541.98 L1212.07 541.72 L1214.47 541.45 L1216.87 541.17 L1219.28 540.88 L1221.68 540.59 L1224.09 540.29 L1226.49 539.99 L1228.90 539.67 L1231.30 539.35 L1233.70 539.02 L1236.11 538.69 L1238.51 538.34 L1240.20 538.09 L1240.92 537.99 L1243.32 537.64 L1245.73 537.26 L1248.13 536.81 L1250.53 536.25 L1250.96 536.14 L1252.94 535.41 L1255.34 534.16 L1257.75 532.68 L1260.15 531.17 L1261.22 530.54 L1262.56 529.79 L1264.96 528.46 L1267.36 527.11 L1269.77 525.71 L1272.17 524.22 L1273.90 523.09 L1274.58 522.61 L1276.98 520.80 L1279.39 518.82 L1281.79 516.78 L1284.19 514.76 L1286.60 512.85 L1286.61 512.84 L1289.00 511.02 L1291.41 509.20 L1293.81 507.45 L1296.22 505.80 L1297.60 504.91 L1298.62 504.26 L1301.02 502.67 L1303.43 501.25 L1305.83 500.30 L1306.02 500.25 L1308.24 499.76 L1310.64 499.39 L1312.01 499.32 L1313.05 499.41 L1315.45 500.10 L1317.00 500.72 L1317.85 501.00 L1320.26 502.42 L1320.88 503.28 L1321.73 539.86 L1322.61 548.25 L1322.66 548.62 L1324.42 558.97 L1325.07 562.15 L1327.47 572.55 L1329.88 581.98 L1330.87 586.00 L1332.28 591.76 L1334.68 601.51 L1336.25 607.90 L1337.09 611.32 L1339.49 621.22 L1340.09 623.74 L1341.90 631.47 L1344.30 641.93 L1344.51 642.85 L1346.71 652.55 L1349.11 663.29 L1351.51 673.55 L1352.58 677.80 L1353.92 682.91 L1356.32 691.63 L1358.54 698.77 L1358.73 699.34 L1361.13 706.06 L1363.54 712.00 L1364.49 714.15 L1365.94 717.25 L1368.34 722.06 L1370.75 726.27 L1371.98 728.13 L1373.15 729.74 L1375.56 732.73 L1377.96 735.14 L1378.51 735.58 L1380.37 736.93 L1382.77 738.47 L1385.17 739.82 L1387.58 741.03 L1389.98 742.13 L1392.39 743.17 L1392.73 743.32 L1394.79 744.18 L1397.20 745.13 L1399.60 746.02 L1402.00 746.87 L1404.41 747.68 L1406.81 748.46 L1409.22 749.22 L1411.62 749.97 L1414.02 750.71 L1414.82 750.96 L1416.43 751.46 L1418.83 752.20 L1421.24 752.93 L1423.64 753.64 L1426.05 754.33 L1428.45 755.01 L1430.85 755.66 L1433.26 756.30 L1435.66 756.90 L1436.14 757.02 L1438.07 757.49 L1440.47 758.06 L1442.88 758.61 L1445.28 759.15 L1447.68 759.67 L1450.09 760.18 L1452.49 760.66 L1454.90 761.13 L1457.30 761.57 L1457.93 761.68 L1459.71 761.99 L1462.11 762.40 L1464.51 762.81 L1466.92 763.20 L1469.32 763.57 L1471.73 763.92 L1474.13 764.26 L1476.54 764.57 L1478.94 764.86 L1479.67 764.94 L1481.34 765.13 L1483.75 765.39 L1486.15 765.64 L1488.56 765.89 L1490.96 766.13 L1493.37 766.35 L1495.77 766.57 L1498.17 766.78 L1500.58 766.98 L1502.98 767.16 L1505.39 767.33 L1507.79 767.48 L1510.20 767.62 L1512.60 767.74" fill="none" stroke="#000" stroke-linejoin="round" stroke-width="2.5" stroke-linecap="square"/>
<line x1="1306.67" y1="781.1" x2="1306.67" y2="487.7" stroke="#000" stroke-width="1.6" stroke-dasharray="8 5.6 1.3 5.6 1.3 5.6"/>
<line x1="1321.11" y1="781.1" x2="1321.11" y2="487.7" stroke="#000" stroke-width="1.6" stroke-dasharray="8 2.4 1.2 2.4"/>
<rect x="1408.8" y="496.4" width="114.1" height="95.6" rx="3.5" ry="3.5" fill="#fff" fill-opacity="0.8" stroke="#d4d4d4" stroke-width="1.1"/>
<line x1="1416.5" y1="512.8" x2="1450.94" y2="512.8" stroke="#000" stroke-width="1.75" stroke-dasharray="6.2 2.7"/>
<text x="1469.3" y="519.24" font-family="'Liberation Sans', Arial, sans-serif" font-size="19.01" textLength="27.59" lengthAdjust="spacingAndGlyphs">F<tspan font-size="13.29" y="521.38">CA</tspan></text>
<line x1="1416.5" y1="543.1" x2="1450.94" y2="543.1" stroke="#000" stroke-width="1.75" stroke-dasharray="1.7 2.75"/>
<text x="1469.3" y="549.54" font-family="'Liberation Sans', Arial, sans-serif" font-size="19.01" textLength="27.59" lengthAdjust="spacingAndGlyphs">F<tspan font-size="13.29" y="551.68">BC</tspan></text>
<line x1="1417.3" y1="574.2" x2="1453" y2="574.2" stroke="#000" stroke-width="2.5" stroke-linecap="square"/>
<text x="1469.3" y="579.72" font-family="'Liberation Sans', Arial, sans-serif" font-size="19.01" textLength="43.95" lengthAdjust="spacingAndGlyphs">F<tspan font-size="13.29" y="572.16">ROEF</tspan></text>
<rect x="1111.8" y="487.1" width="420.3" height="294.6" fill="none" stroke="#303030" stroke-width="1.2"/>
<line x1="1107.71" y1="491.4" x2="1111.8" y2="491.4" stroke="#303030" stroke-width="1.1"/>
<text x="1076.39" y="497.53" font-family="'Liberation Serif', 'Times New Roman', serif" font-size="18.6" textLength="26.92" lengthAdjust="spacingAndGlyphs">300</text>
<line x1="1107.71" y1="538" x2="1111.8" y2="538" stroke="#303030" stroke-width="1.1"/>
<text x="1076.39" y="544.13" font-family="'Liberation Serif', 'Times New Roman', serif" font-size="18.6" textLength="26.92" lengthAdjust="spacingAndGlyphs">200</text>
<line x1="1107.71" y1="584.6" x2="1111.8" y2="584.6" stroke="#303030" stroke-width="1.1"/>
<text x="1076.39" y="590.73" font-family="'Liberation Serif', 'Times New Roman', serif" font-size="18.6" textLength="26.92" lengthAdjust="spacingAndGlyphs">100</text>
<line x1="1107.71" y1="631.2" x2="1111.8" y2="631.2" stroke="#303030" stroke-width="1.1"/>
<text x="1094.34" y="637.33" font-family="'Liberation Serif', 'Times New Roman', serif" font-size="18.6" textLength="8.97" lengthAdjust="spacingAndGlyphs">0</text>
<line x1="1107.71" y1="677.8" x2="1111.8" y2="677.8" stroke="#303030" stroke-width="1.1"/>
<text x="1066.27" y="683.93" font-family="'Liberation Serif', 'Times New Roman', serif" font-size="18.6" textLength="37.05" lengthAdjust="spacingAndGlyphs">−100</text>
<line x1="1107.71" y1="724.4" x2="1111.8" y2="724.4" stroke="#303030" stroke-width="1.1"/>
<text x="1066.27" y="730.53" font-family="'Liberation Serif', 'Times New Roman', serif" font-size="18.6" textLength="37.05" lengthAdjust="spacingAndGlyphs">−200</text>
<line x1="1107.71" y1="771" x2="1111.8" y2="771" stroke="#303030" stroke-width="1.1"/>
<text x="1066.27" y="777.13" font-family="'Liberation Serif', 'Times New Roman', serif" font-size="18.6" textLength="37.05" lengthAdjust="spacingAndGlyphs">−300</text>
<line x1="1128.4" y1="781.7" x2="1128.4" y2="785.79" stroke="#303030" stroke-width="1.1"/>
<text x="1117.48" y="801.6" font-family="'Liberation Serif', 'Times New Roman', serif" font-size="18.6" textLength="22.44" lengthAdjust="spacingAndGlyphs">0.0</text>
<line x1="1205.24" y1="781.7" x2="1205.24" y2="785.79" stroke="#303030" stroke-width="1.1"/>
<text x="1194.32" y="801.6" font-family="'Liberation Serif', 'Times New Roman', serif" font-size="18.6" textLength="22.44" lengthAdjust="spacingAndGlyphs">0.2</text>
<line x1="1282.08" y1="781.7" x2="1282.08" y2="785.79" stroke="#303030" stroke-width="1.1"/>
<text x="1271.16" y="801.6" font-family="'Liberation Serif', 'Times New Roman', serif" font-size="18.6" textLength="22.44" lengthAdjust="spacingAndGlyphs">0.4</text>
<line x1="1358.92" y1="781.7" x2="1358.92" y2="785.79" stroke="#303030" stroke-width="1.1"/>
<text x="1348" y="801.6" font-family="'Liberation Serif', 'Times New Roman', serif" font-size="18.6" textLength="22.44" lengthAdjust="spacingAndGlyphs">0.6</text>
<line x1="1435.76" y1="781.7" x2="1435.76" y2="785.79" stroke="#303030" stroke-width="1.1"/>
<text x="1424.84" y="801.6" font-family="'Liberation Serif', 'Times New Roman', serif" font-size="18.6" textLength="22.44" lengthAdjust="spacingAndGlyphs">0.8</text>
<line x1="1512.6" y1="781.7" x2="1512.6" y2="785.79" stroke="#303030" stroke-width="1.1"/>
<text x="1501.68" y="801.6" font-family="'Liberation Serif', 'Times New Roman', serif" font-size="18.6" textLength="22.44" lengthAdjust="spacingAndGlyphs">1.0</text>
<text x="1321.45" y="823.5" font-family="'Liberation Serif', 'Times New Roman', serif" font-size="19.21" text-anchor="middle" textLength="123.15" lengthAdjust="spacingAndGlyphs">Normalized IRC</text>
<text transform="translate(1053.8 634.4) rotate(-90)" font-family="'Liberation Serif', 'Times New Roman', serif" font-size="19.21" text-anchor="middle" textLength="220.75" lengthAdjust="spacingAndGlyphs">Force (kJ mol<tspan font-size="15.84" dy="-8.48">−1</tspan><tspan dy="8.48"> e</tspan><tspan font-size="15.84" dy="-8.48">−1</tspan><tspan dy="8.48"> bohr</tspan><tspan font-size="15.84" dy="-8.48">−1</tspan><tspan dy="8.48">)</tspan></text>
<text x="1725.03" y="469.9" font-family="'Liberation Sans', Arial, sans-serif" font-size="32.4" textLength="111.32" lengthAdjust="spacingAndGlyphs"><tspan y="469.9">IV. HCN</tspan></text>
<text x="1887.63" y="469.9" font-family="'Liberation Sans', Arial, sans-serif" font-size="32.4" textLength="66.82" lengthAdjust="spacingAndGlyphs"><tspan y="469.9">HNC</tspan></text>
<text transform="translate(1846.37 476) scale(0.85 1.25)" font-family="'Noto Sans CJK JP', 'Noto Sans CJK SC', sans-serif" font-size="36">→</text>
<line x1="1628.4" y1="557.6" x2="2046.6" y2="557.6" stroke="#7a7a7a" stroke-width="1.25"/>
<path d="M1645.82 716.53 L1648.22 716.53 L1650.62 716.50 L1653.02 716.47 L1655.42 716.41 L1657.82 716.34 L1660.22 716.25 L1662.62 716.13 L1665.02 716.00 L1667.42 715.84 L1669.82 715.66 L1672.22 715.46 L1674.62 715.23 L1677.02 714.97 L1679.42 714.69 L1681.82 714.37 L1684.22 714.03 L1686.62 713.65 L1687.39 713.53 L1689.02 712.86 L1691.42 710.79 L1693.82 708.12 L1694.22 707.67 L1696.22 705.26 L1698.62 701.83 L1701.01 697.70 L1703.41 692.77 L1704.30 690.73 L1705.81 686.47 L1708.21 677.57 L1710.61 667.23 L1712.51 658.91 L1713.01 656.66 L1715.41 645.09 L1716.19 641.66 L1717.81 635.56 L1718.61 632.48 L1720.21 624.69 L1722.61 611.79 L1724.59 603.51 L1725.01 602.21 L1727.41 596.06 L1728.31 594.80 L1729.81 593.71 L1730.00 593.69 L1732.21 594.52 L1733.10 595.12 L1734.61 596.87 L1737.01 601.73 L1738.51 605.41 L1739.41 607.93 L1741.81 616.62 L1744.21 626.69 L1745.18 630.73 L1746.61 636.76 L1749.01 647.41 L1751.41 658.32 L1751.89 660.50 L1753.81 670.44 L1755.81 678.38 L1756.21 679.20 L1758.61 682.90 L1761.01 685.42 L1763.41 687.74 L1764.51 688.99 L1765.81 690.62 L1768.21 693.73 L1770.61 696.88 L1773.01 700.02 L1775.41 703.08 L1777.81 705.98 L1779.01 707.35 L1780.21 708.69 L1782.61 711.31 L1785.01 713.85 L1787.41 716.29 L1789.81 718.61 L1792.21 720.80 L1793.50 721.92 L1794.61 722.85 L1797.01 724.83 L1799.41 726.74 L1801.81 728.54 L1804.21 730.21 L1806.61 731.73 L1808.00 732.52 L1809.01 733.07 L1811.41 734.33 L1813.81 735.51 L1816.21 736.59 L1818.61 737.57 L1821.01 738.41 L1822.50 738.85 L1823.41 739.11 L1825.81 739.76 L1828.21 740.37 L1830.61 740.93 L1833.01 741.44 L1835.41 741.89 L1837.81 742.26 L1840.21 742.55 L1841.40 742.65 L1842.61 742.75 L1845.01 742.93 L1847.41 743.10 L1849.81 743.25 L1852.21 743.40 L1854.61 743.54 L1857.01 743.67 L1859.41 743.78 L1861.81 743.89 L1864.21 743.99 L1866.61 744.08 L1869.01 744.15 L1871.41 744.22 L1873.81 744.28 L1876.21 744.33 L1878.61 744.37 L1880.02 744.39 L1881.01 744.41 L1883.41 744.44 L1885.81 744.47 L1888.21 744.50 L1890.61 744.53 L1893.01 744.56 L1895.41 744.59 L1897.81 744.61 L1900.21 744.64 L1902.61 744.67 L1905.01 744.69 L1907.41 744.72 L1909.81 744.75 L1912.21 744.77 L1914.61 744.79 L1917.01 744.82 L1919.40 744.84 L1921.80 744.86 L1924.20 744.89 L1926.60 744.91 L1929.00 744.93 L1931.40 744.95 L1933.80 744.97 L1936.20 744.99 L1938.60 745.01 L1941.00 745.02 L1943.40 745.04 L1945.80 745.06 L1948.20 745.08 L1950.60 745.09 L1953.00 745.11 L1955.40 745.12 L1957.80 745.14 L1960.20 745.15 L1962.60 745.17 L1965.00 745.18 L1967.40 745.19 L1969.80 745.20 L1972.20 745.21 L1974.60 745.23 L1977.00 745.24 L1979.40 745.25 L1981.80 745.26 L1984.20 745.27 L1986.60 745.27 L1989.00 745.28 L1991.40 745.29 L1993.80 745.30 L1996.20 745.30 L1998.60 745.31 L2001.00 745.31 L2003.40 745.32 L2005.80 745.32 L2008.20 745.33 L2010.60 745.33 L2013.00 745.34 L2015.40 745.34 L2017.80 745.34 L2020.20 745.34 L2022.60 745.34 L2025.00 745.34 L2027.40 745.34" fill="none" stroke="#000" stroke-linejoin="round" stroke-width="1.75" stroke-dasharray="1.7 2.75"/>
<path d="M1645.82 765.76 L1648.22 765.76 L1650.62 765.73 L1653.02 765.69 L1655.42 765.63 L1657.82 765.55 L1660.22 765.45 L1662.62 765.33 L1665.02 765.20 L1667.42 765.03 L1669.82 764.85 L1672.22 764.64 L1674.62 764.41 L1677.02 764.16 L1679.42 763.88 L1681.82 763.57 L1684.22 763.24 L1686.62 762.88 L1687.39 762.76 L1689.02 762.25 L1691.42 760.77 L1693.82 758.72 L1695.90 756.74 L1696.22 756.44 L1698.62 753.72 L1701.01 750.35 L1703.41 746.40 L1705.81 741.96 L1706.03 741.54 L1708.21 736.58 L1710.61 729.93 L1713.01 722.57 L1715.41 715.09 L1716.19 712.73 L1717.81 707.82 L1720.21 700.39 L1722.61 692.76 L1725.01 684.93 L1726.31 680.60 L1727.41 676.52 L1728.00 674.74 L1729.81 671.58 L1730.00 671.26 L1732.21 667.26 L1734.61 662.76 L1736.52 658.91 L1737.01 657.84 L1738.51 654.32 L1739.41 651.94 L1741.81 644.86 L1744.21 637.67 L1745.18 635.01 L1746.61 631.47 L1746.91 630.73 L1749.01 624.78 L1750.01 622.82 L1751.41 621.18 L1753.81 619.07 L1755.88 618.39 L1756.21 618.41 L1758.61 619.64 L1760.91 621.71 L1761.01 621.81 L1763.41 625.15 L1763.78 625.67 L1765.81 628.24 L1768.19 631.37 L1768.21 631.40 L1770.61 635.08 L1773.01 639.15 L1773.98 640.87 L1775.41 643.51 L1777.81 648.29 L1780.21 653.26 L1782.61 658.19 L1784.11 661.13 L1785.01 662.86 L1787.41 667.41 L1789.81 671.87 L1792.21 676.21 L1794.27 679.81 L1794.61 680.39 L1797.01 684.30 L1799.41 688.12 L1800.71 690.26 L1801.81 692.14 L1804.21 696.50 L1806.61 701.02 L1809.01 705.47 L1811.41 709.65 L1813.81 713.34 L1814.17 713.84 L1816.21 716.55 L1818.61 719.58 L1821.01 722.43 L1823.41 725.10 L1825.81 727.59 L1828.21 729.90 L1830.61 732.03 L1831.20 732.52 L1833.01 734.05 L1835.41 736.15 L1837.81 738.20 L1840.21 740.09 L1842.61 741.71 L1845.01 742.94 L1847.41 743.66 L1848.11 743.76 L1849.81 743.93 L1852.21 744.15 L1854.61 744.35 L1857.01 744.52 L1859.41 744.69 L1861.81 744.83 L1864.21 744.95 L1866.61 745.06 L1869.01 745.15 L1871.41 745.22 L1873.81 745.28 L1876.21 745.31 L1878.61 745.34 L1880.02 745.34 L1881.01 745.35 L1883.41 745.35 L1885.81 745.36 L1888.21 745.36 L1890.61 745.37 L1893.01 745.38 L1895.41 745.38 L1897.81 745.39 L1900.21 745.39 L1902.61 745.40 L1905.01 745.40 L1907.41 745.41 L1909.81 745.41 L1912.21 745.42 L1914.61 745.42 L1917.01 745.42 L1919.40 745.43 L1921.80 745.43 L1924.20 745.44 L1926.60 745.44 L1929.00 745.44 L1931.40 745.45 L1933.80 745.45 L1936.20 745.45 L1938.60 745.46 L1941.00 745.46 L1943.40 745.46 L1945.80 745.46 L1948.20 745.47 L1950.60 745.47 L1953.00 745.47 L1955.40 745.47 L1957.80 745.48 L1960.20 745.48 L1962.60 745.48 L1965.00 745.48 L1967.40 745.48 L1969.80 745.48 L1972.20 745.49 L1974.60 745.49 L1977.00 745.49 L1979.40 745.49 L1981.80 745.49 L1984.20 745.49 L1986.60 745.49 L1989.00 745.50 L1991.40 745.50 L1993.80 745.50 L1996.20 745.50 L1998.60 745.50 L2001.00 745.50 L2003.40 745.50 L2005.80 745.50 L2008.20 745.50 L2010.60 745.50 L2013.00 745.50 L2015.40 745.50 L2017.80 745.50 L2020.20 745.50 L2022.60 745.50 L2025.00 745.50 L2027.40 745.50" fill="none" stroke="#000" stroke-linejoin="round" stroke-width="1.75" stroke-dasharray="6.2 2.7"/>
<path d="M1645.82 606.36 L1648.22 606.36 L1650.62 606.36 L1653.02 606.36 L1655.42 606.36 L1657.82 606.36 L1660.22 606.36 L1662.62 606.36 L1665.02 606.36 L1667.42 606.36 L1669.82 606.36 L1672.22 606.36 L1674.62 606.36 L1677.02 606.36 L1679.42 606.36 L1681.82 606.36 L1684.22 606.36 L1686.62 606.36 L1689.02 606.36 L1691.42 606.36 L1691.99 606.36 L1693.82 606.77 L1696.22 608.29 L1698.62 610.38 L1700.50 612.06 L1701.01 612.49 L1703.41 614.87 L1705.81 617.61 L1708.21 620.53 L1710.09 622.82 L1710.61 623.46 L1713.01 626.73 L1715.41 630.09 L1717.81 632.98 L1718.61 633.74 L1720.21 635.11 L1722.61 636.91 L1725.01 638.30 L1725.82 638.65 L1727.31 639.12 L1727.41 639.11 L1729.81 635.50 L1730.00 635.17 L1732.21 630.47 L1733.45 627.25 L1734.61 623.71 L1736.71 615.85 L1737.01 614.53 L1739.41 602.07 L1740.39 596.23 L1741.81 586.23 L1743.42 574.54 L1744.21 569.76 L1745.80 559.97 L1746.61 552.43 L1748.40 534.33 L1749.01 529.95 L1751.28 516.92 L1751.41 516.29 L1753.81 506.06 L1755.12 502.35 L1756.21 500.21 L1758.61 496.69 L1759.99 495.55 L1761.01 494.97 L1763.41 493.91 L1765.78 493.49 L1765.81 493.49 L1768.21 493.85 L1770.61 494.68 L1771.61 495.07 L1773.01 495.77 L1775.41 497.52 L1777.81 499.69 L1780.21 501.95 L1780.31 502.04 L1782.61 504.25 L1785.01 506.79 L1787.41 509.48 L1789.81 512.25 L1792.21 515.04 L1794.61 517.79 L1797.01 520.41 L1797.30 520.72 L1799.41 522.95 L1801.81 525.51 L1804.21 528.06 L1806.61 530.56 L1809.01 532.97 L1811.41 535.25 L1813.81 537.35 L1814.17 537.65 L1816.21 539.32 L1818.61 541.26 L1821.01 543.12 L1823.41 544.88 L1825.81 546.52 L1828.21 547.98 L1830.61 549.25 L1831.20 549.53 L1833.01 550.35 L1835.41 551.42 L1837.81 552.43 L1840.21 553.35 L1842.61 554.14 L1845.01 554.77 L1847.41 555.22 L1848.11 555.30 L1849.81 555.49 L1852.21 555.74 L1854.61 555.98 L1857.01 556.20 L1859.41 556.40 L1861.81 556.58 L1864.21 556.74 L1866.61 556.89 L1869.01 557.01 L1871.41 557.11 L1873.81 557.19 L1876.21 557.24 L1878.61 557.28 L1880.02 557.28 L1881.01 557.29 L1883.41 557.29 L1885.81 557.30 L1888.21 557.30 L1890.61 557.31 L1893.01 557.32 L1895.41 557.32 L1897.81 557.33 L1900.21 557.33 L1902.61 557.34 L1905.01 557.34 L1907.41 557.35 L1909.81 557.35 L1912.21 557.36 L1914.61 557.36 L1917.01 557.36 L1919.40 557.37 L1921.80 557.37 L1924.20 557.38 L1926.60 557.38 L1929.00 557.38 L1931.40 557.39 L1933.80 557.39 L1936.20 557.39 L1938.60 557.40 L1941.00 557.40 L1943.40 557.40 L1945.80 557.40 L1948.20 557.41 L1950.60 557.41 L1953.00 557.41 L1955.40 557.41 L1957.80 557.42 L1960.20 557.42 L1962.60 557.42 L1965.00 557.42 L1967.40 557.42 L1969.80 557.42 L1972.20 557.43 L1974.60 557.43 L1977.00 557.43 L1979.40 557.43 L1981.80 557.43 L1984.20 557.43 L1986.60 557.43 L1989.00 557.43 L1991.40 557.44 L1993.80 557.44 L1996.20 557.44 L1998.60 557.44 L2001.00 557.44 L2003.40 557.44 L2005.80 557.44 L2008.20 557.44 L2010.60 557.44 L2013.00 557.44 L2015.40 557.44 L2017.80 557.44 L2020.20 557.44 L2022.60 557.44 L2025.00 557.44 L2027.40 557.44" fill="none" stroke="#000" stroke-linejoin="round" stroke-width="2.5" stroke-linecap="square"/>
<line x1="1727.31" y1="778.9" x2="1727.31" y2="480.5" stroke="#000" stroke-width="1.6" stroke-dasharray="8 2.4 1.2 2.4"/>
<line x1="1755.88" y1="778.9" x2="1755.88" y2="480.5" stroke="#000" stroke-width="1.6" stroke-dasharray="8 5.6 1.3 5.6 1.3 5.6"/>
<rect x="1920.7" y="580.9" width="116.2" height="98" rx="3.5" ry="3.5" fill="#fff" fill-opacity="0.8" stroke="#d4d4d4" stroke-width="1.1"/>
<line x1="1928.6" y1="597.2" x2="1963.65" y2="597.2" stroke="#000" stroke-width="1.75" stroke-dasharray="6.2 2.7"/>
<text x="1981.7" y="603.75" font-family="'Liberation Sans', Arial, sans-serif" font-size="19.34" textLength="28.08" lengthAdjust="spacingAndGlyphs">F<tspan font-size="13.52" y="605.94">CA</tspan></text>
<line x1="1928.6" y1="628.1" x2="1963.65" y2="628.1" stroke="#000" stroke-width="1.75" stroke-dasharray="1.7 2.75"/>
<text x="1981.7" y="634.65" font-family="'Liberation Sans', Arial, sans-serif" font-size="19.34" textLength="28.08" lengthAdjust="spacingAndGlyphs">F<tspan font-size="13.52" y="636.84">BC</tspan></text>
<line x1="1929.4" y1="659.7" x2="1966.1" y2="659.7" stroke="#000" stroke-width="2.5" stroke-linecap="square"/>
<text x="1981.7" y="665.32" font-family="'Liberation Sans', Arial, sans-serif" font-size="19.34" textLength="44.72" lengthAdjust="spacingAndGlyphs">F<tspan font-size="13.52" y="657.62">ROEF</tspan></text>
<rect x="1628.4" y="479.9" width="418.2" height="299.6" fill="none" stroke="#303030" stroke-width="1.2"/>
<line x1="1624.24" y1="557.6" x2="1628.4" y2="557.6" stroke="#303030" stroke-width="1.1"/>
<text x="1610.64" y="563.84" font-family="'Liberation Serif', 'Times New Roman', serif" font-size="18.93" textLength="9.13" lengthAdjust="spacingAndGlyphs">0</text>
<line x1="1624.24" y1="636.75" x2="1628.4" y2="636.75" stroke="#303030" stroke-width="1.1"/>
<text x="1582.07" y="642.99" font-family="'Liberation Serif', 'Times New Roman', serif" font-size="18.93" textLength="37.7" lengthAdjust="spacingAndGlyphs">−500</text>
<line x1="1624.24" y1="715.9" x2="1628.4" y2="715.9" stroke="#303030" stroke-width="1.1"/>
<text x="1572.94" y="722.14" font-family="'Liberation Serif', 'Times New Roman', serif" font-size="18.93" textLength="46.83" lengthAdjust="spacingAndGlyphs">−1000</text>
<line x1="1643.9" y1="779.5" x2="1643.9" y2="783.66" stroke="#303030" stroke-width="1.1"/>
<text x="1632.78" y="800.1" font-family="'Liberation Serif', 'Times New Roman', serif" font-size="18.93" textLength="22.83" lengthAdjust="spacingAndGlyphs">0.0</text>
<line x1="1720.6" y1="779.5" x2="1720.6" y2="783.66" stroke="#303030" stroke-width="1.1"/>
<text x="1709.48" y="800.1" font-family="'Liberation Serif', 'Times New Roman', serif" font-size="18.93" textLength="22.83" lengthAdjust="spacingAndGlyphs">0.2</text>
<line x1="1797.3" y1="779.5" x2="1797.3" y2="783.66" stroke="#303030" stroke-width="1.1"/>
<text x="1786.18" y="800.1" font-family="'Liberation Serif', 'Times New Roman', serif" font-size="18.93" textLength="22.83" lengthAdjust="spacingAndGlyphs">0.4</text>
<line x1="1874" y1="779.5" x2="1874" y2="783.66" stroke="#303030" stroke-width="1.1"/>
<text x="1862.88" y="800.1" font-family="'Liberation Serif', 'Times New Roman', serif" font-size="18.93" textLength="22.83" lengthAdjust="spacingAndGlyphs">0.6</text>
<line x1="1950.7" y1="779.5" x2="1950.7" y2="783.66" stroke="#303030" stroke-width="1.1"/>
<text x="1939.58" y="800.1" font-family="'Liberation Serif', 'Times New Roman', serif" font-size="18.93" textLength="22.83" lengthAdjust="spacingAndGlyphs">0.8</text>
<line x1="2027.4" y1="779.5" x2="2027.4" y2="783.66" stroke="#303030" stroke-width="1.1"/>
<text x="2016.28" y="800.1" font-family="'Liberation Serif', 'Times New Roman', serif" font-size="18.93" textLength="22.83" lengthAdjust="spacingAndGlyphs">1.0</text>
<text x="1837" y="822.4" font-family="'Liberation Serif', 'Times New Roman', serif" font-size="19.55" text-anchor="middle" textLength="125.32" lengthAdjust="spacingAndGlyphs">Normalized IRC</text>
<text transform="translate(1558.7 629.7) rotate(-90)" font-family="'Liberation Serif', 'Times New Roman', serif" font-size="19.55" text-anchor="middle" textLength="224.64" lengthAdjust="spacingAndGlyphs">Force (kJ mol<tspan font-size="16.12" dy="-8.63">−1</tspan><tspan dy="8.63"> e</tspan><tspan font-size="16.12" dy="-8.63">−1</tspan><tspan dy="8.63"> bohr</tspan><tspan font-size="16.12" dy="-8.63">−1</tspan><tspan dy="8.63">)</tspan></text>
<path d="M310 489.1 Q312.6 485.7 315.2 489.1 Z" fill="#000"/>
<path d="M832.9 489.7 Q835.5 486.3 838.1 489.7 Z" fill="#000"/>
<line x1="1304.3" y1="484.5" x2="1309.8" y2="484.5" stroke="#222" stroke-width="1.1"/>
<line x1="1352.8" y1="484.5" x2="1358.1" y2="484.5" stroke="#222" stroke-width="1.1"/>
</svg></body></html>
